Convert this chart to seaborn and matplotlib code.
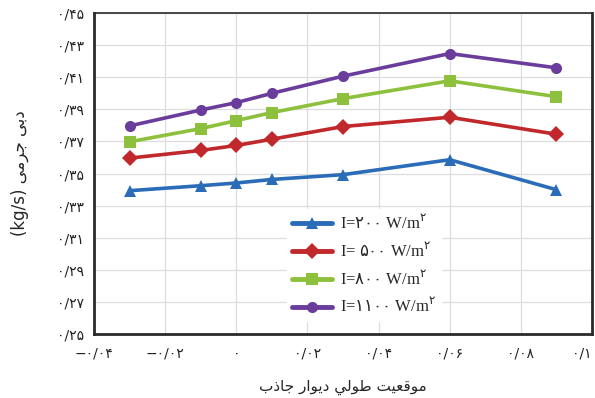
import matplotlib
matplotlib.use("Agg")
import matplotlib.pyplot as plt
import seaborn as sns
import pandas as pd

# Position along the absorber wall (m)
positions = [-0.03, -0.01, 0.0, 0.01, 0.03, 0.06, 0.09]

# Mass flow rate (kg/s) for each irradiance level
flow_200 = [0.3393, 0.3424, 0.3441, 0.3463, 0.3493, 0.3586, 0.3399]
flow_500 = [0.3596, 0.3644, 0.3675, 0.3714, 0.3793, 0.3851, 0.3745]
flow_800 = [0.3698, 0.3780, 0.3830, 0.3880, 0.3967, 0.4078, 0.3979]
flow_1100 = [0.3797, 0.3896, 0.3942, 0.4000, 0.4107, 0.4248, 0.4159]

series_labels = [r"I=$\mathrm{۲۰۰}$ W/m$^{۲}$", r"I= $\mathrm{۵۰۰}$ W/m$^{۲}$",
                 r"I=$\mathrm{۸۰۰}$ W/m$^{۲}$", r"I=$\mathrm{۱۱۰۰}$ W/m$^{۲}$"]
series_values = [flow_200, flow_500, flow_800, flow_1100]

x_ticks = [-0.04, -0.02, 0.0, 0.02, 0.04, 0.06, 0.08, 0.1]
x_tick_labels = ["−۰/۰۴", "−۰/۰۲", "۰", "۰/۰۲", "۰/۰۴", "۰/۰۶", "۰/۰۸", "۰/۱"]
y_ticks = [0.25, 0.27, 0.29, 0.31, 0.33, 0.35, 0.37, 0.39, 0.41, 0.43, 0.45]
y_tick_labels = ["۰/۲۵", "۰/۲۷", "۰/۲۹", "۰/۳۱", "۰/۳۳", "۰/۳۵",
                 "۰/۳۷", "۰/۳۹", "۰/۴۱", "۰/۴۳", "۰/۴۵"]

# Axis titles, written with Arabic presentation forms in display order
x_title = ("\uFE8F\uFEAB\uFE8E\uFE9F \uFEAD\uFE8D\uFEEE\uFEF3\uFEA9 "
           "\uFEF2\uFEDF\uFEEE\uFEC3 \uFE96\uFEF4\uFECC\uFED7\uFEEE\uFEE3")
y_title = "(kg/s) \uFEF0\uFEE3\uFEAE\uFE9F \uFEF0\uFE91\uFEA9"

colors = ["#2B6CB8", "#C0282C", "#8DC03C", "#6A3D9C"]
markers = ["^", "D", "s", "o"]

rows = []
for label, vals in zip(series_labels, series_values):
    for xv, yv in zip(positions, vals):
        rows.append({"x": xv, "y": yv, "series": label})
df = pd.DataFrame(rows)

sns.set_theme(style="whitegrid")
plt.rcParams["font.family"] = ["Liberation Serif", "DejaVu Sans"]
plt.rcParams["mathtext.fontset"] = "dejavusans"

fig = plt.figure(figsize=(5.95, 3.98), dpi=100)
ax = fig.add_axes([0.158, 0.161, 0.837, 0.806])

sns.lineplot(data=df, x="x", y="y", hue="series", style="series",
             hue_order=series_labels, style_order=series_labels,
             palette=colors, markers=markers, dashes=False,
             linewidth=2.6, markersize=8, markeredgewidth=0, ax=ax)

ax.set_xlim(-0.04, 0.1)
ax.set_ylim(0.25, 0.45)
ax.set_xticks(x_ticks)
ax.set_xticklabels(x_tick_labels, fontsize=10, family=["DejaVu Sans"])
ax.get_xticklabels()[-1].set_horizontalalignment("right")
ax.set_yticks(y_ticks)
ax.set_yticklabels(y_tick_labels, fontsize=10, family=["DejaVu Sans"])
ax.tick_params(axis="x", length=0, pad=9, colors="#222222")
ax.tick_params(axis="y", length=0, pad=7, colors="#222222")

ax.grid(True, color="#dddddd", linewidth=0.9)
for side in ["left", "bottom", "right", "top"]:
    ax.spines[side].set_visible(True)
    ax.spines[side].set_color("#2a2a2a")
    ax.spines[side].set_linewidth(2.0)
ax.spines["top"].set_linewidth(1.2)

ax.set_xlabel(x_title, fontsize=11, family=["DejaVu Sans"], labelpad=14)
ax.set_ylabel(y_title, fontsize=12, family=["DejaVu Sans"], labelpad=20)

leg = ax.legend(loc="upper left", bbox_to_anchor=(0.37, 0.415),
                frameon=True, facecolor="white", edgecolor="white",
                framealpha=1.0, fontsize=12, handlelength=2.4,
                labelspacing=0.55, borderpad=0.3, handletextpad=0.5)
for h in leg.legend_handles:
    h.set_linewidth(3.5)

fig.savefig("out.png", dpi=100)
